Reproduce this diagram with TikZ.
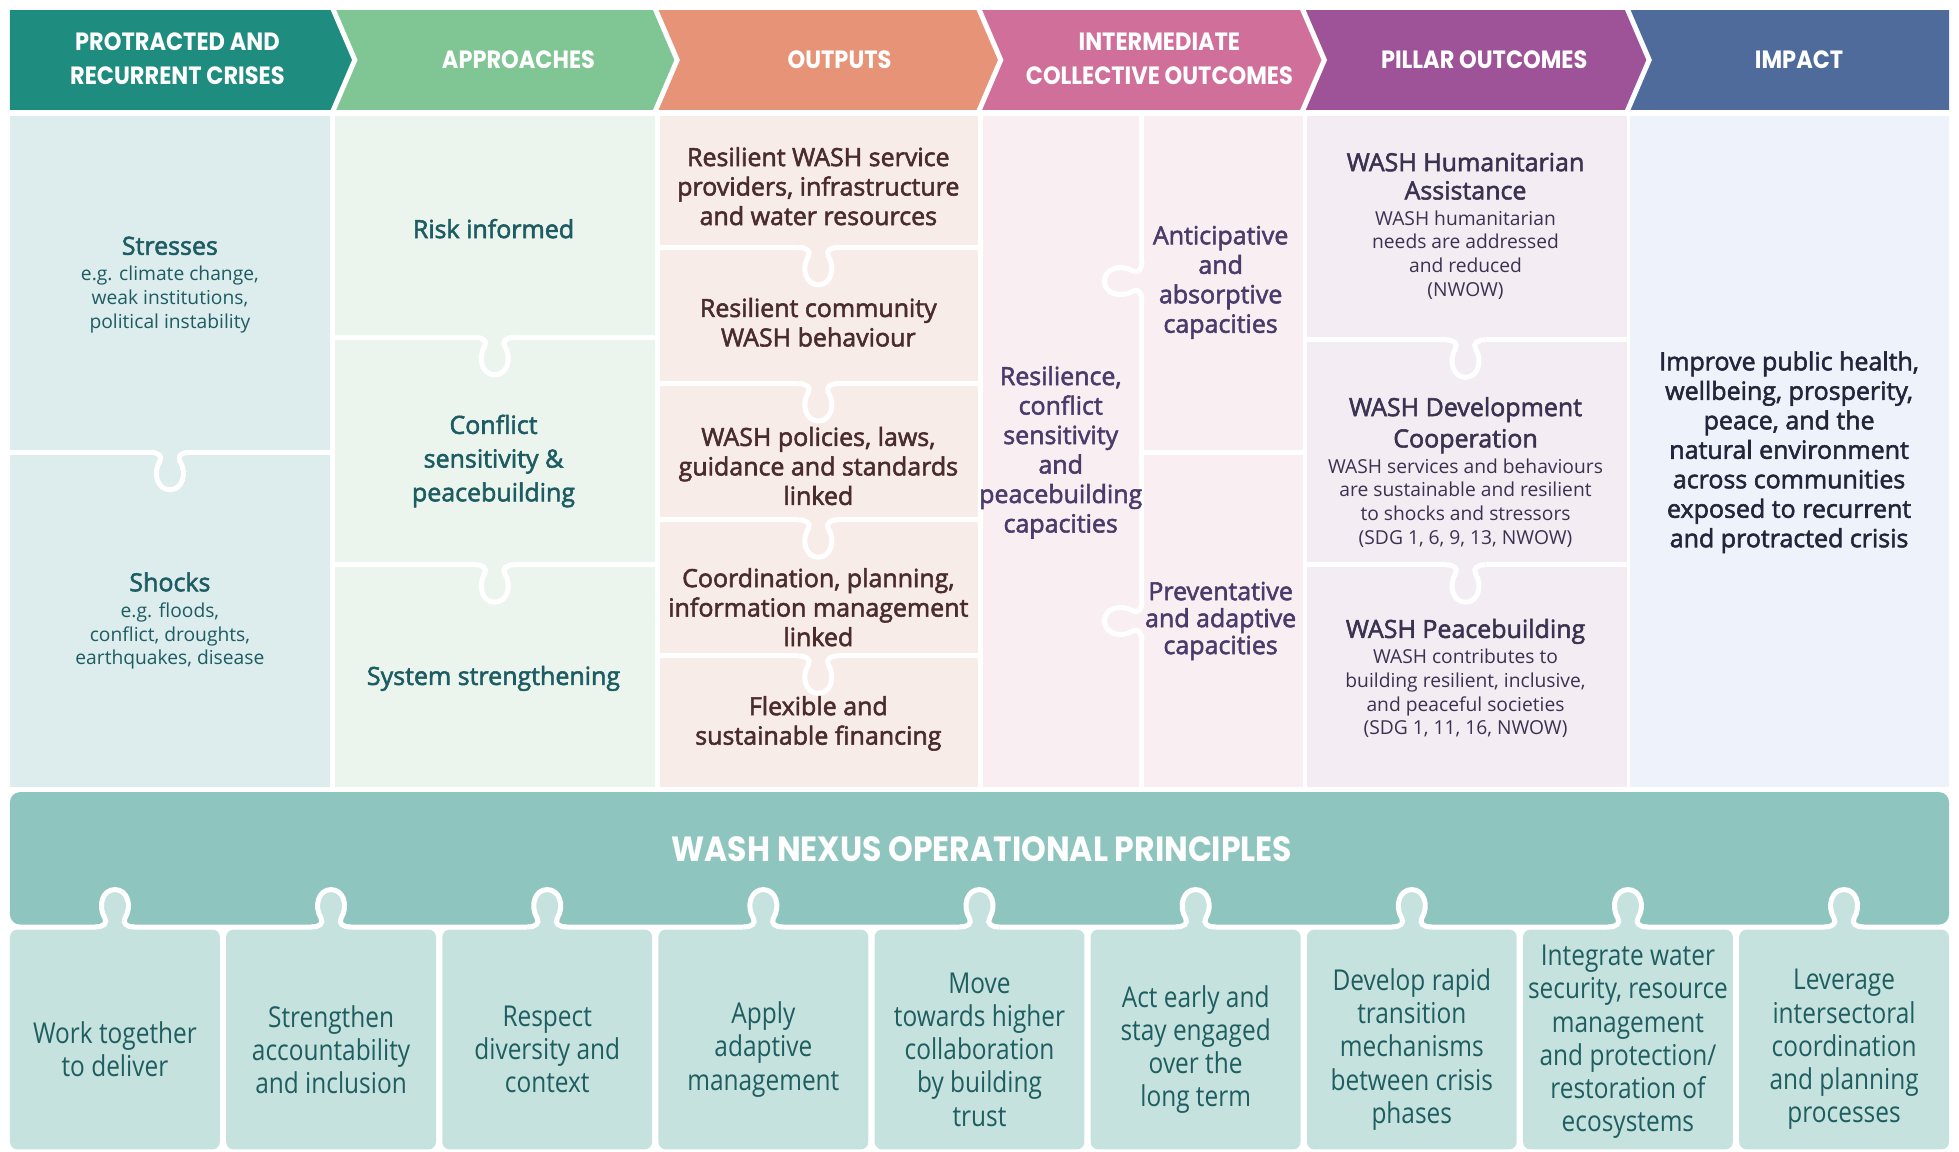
\documentclass[tikz,border=0pt]{standalone}
\usepackage{fontspec}
\setmainfont{Open Sans}
\newfontfamily\headfont{Poppins}[FakeStretch=0.9]
\newfontfamily\semifont{Open Sans}[FakeBold=2.2]
\newfontfamily\cardfont{Open Sans}[FakeStretch=0.85]
\usetikzlibrary{positioning}

\definecolor{hdcrisis}{HTML}{1E8C7E}
\definecolor{hdappr}{HTML}{80C594}
\definecolor{hdout}{HTML}{E69377}
\definecolor{hdinter}{HTML}{D0709A}
\definecolor{hdpillar}{HTML}{9E5399}
\definecolor{hdimpact}{HTML}{4E6B9B}
\definecolor{bgcrisis}{HTML}{DDECEC}
\definecolor{bgappr}{HTML}{EBF5EE}
\definecolor{bgout}{HTML}{F8ECE8}
\definecolor{bginter}{HTML}{F9EFF3}
\definecolor{bgpillar}{HTML}{F3ECF3}
\definecolor{bgimpact}{HTML}{EEF3FB}
\definecolor{banner}{HTML}{8FC5BF}
\definecolor{cardbg}{HTML}{C6E2DE}
\definecolor{txtteal}{HTML}{1D5C63}
\definecolor{txtbrown}{HTML}{4A2C2C}
\definecolor{txtpurple}{HTML}{4A3C6A}
\definecolor{txtpillar}{HTML}{3A3350}
\definecolor{txtimpact}{HTML}{23263A}
\definecolor{txtcard}{HTML}{1E5D60}

\tikzset{
  sep/.style={draw=white, line width=2pt},
  hdtext/.style={text=white, inner sep=0pt, align=center,
    font=\headfont\bfseries\fontsize{10}{13.5}\selectfont},
  bannertext/.style={text=white, inner sep=0pt,
    font=\headfont\bfseries\fontsize{14}{16}\selectfont},
  bodytext/.style={inner sep=0pt, align=center, font=\fontsize{7.7}{9.5}\selectfont},
  boldtext/.style={inner sep=0pt, align=center, font=\semifont\fontsize{10}{11.8}\selectfont},
  cardtext/.style={inner sep=0pt, align=center, text=txtcard,
    font=\cardfont\fontsize{11.5}{13.3}\selectfont},
  knob/.pic={\draw[sep] (-16,0) .. controls (-9,0) and (-6,3) .. (-8,7)
    .. controls (-14,17) and (-10,30) .. (0,30) .. controls (10,30) and (14,17) .. (8,7)
    .. controls (6,3) and (9,0) .. (16,0);},
  knobfill/.pic={\fill[cardbg] (-16,0) .. controls (-9,0) and (-6,3) .. (-8,7)
    .. controls (-14,17) and (-10,30) .. (0,30) .. controls (10,30) and (14,17) .. (8,7)
    .. controls (6,3) and (9,0) .. (16,0) -- (16,-5) -- (-16,-5) -- cycle;}
}
\newcommand\knobline[4]{\draw[sep] (#1,#3) -- (#4-16,#3) (#4+16,#3) -- (#2,#3);
  \path (#4,#3) pic {knob};}
\newcommand\ttl[1]{{\semifont\fontsize{10}{11.5}\selectfont #1}}

\begin{document}
\begin{tikzpicture}[x=0.5pt, y=-0.5pt]
    \useasboundingbox (0,0) rectangle (1568,922);

    \fill[hdcrisis] (8,8) -- (266,8) -- (284,48) -- (266,88) -- (8,88) -- cycle;
    \foreach \a/\b/\c in {266/524/hdappr, 524/783/hdout, 783/1042/hdinter, 1042/1302/hdpillar}
	\fill[\c] (\a,8) -- (\b,8) -- (\b+18,48) -- (\b,88) -- (\a,88) -- (\a+18,48) -- cycle;
    \fill[hdimpact] (1302,8) -- (1560,8) -- (1560,88) -- (1302,88) -- (1320,48) -- cycle;
    \foreach \a in {266,524,783,1042,1302}
	\draw[sep] (\a,6) -- (\a+18,48) -- (\a,90);

    \path (142,47) node [hdtext] (hcrisis) {PROTRACTED AND\\RECURRENT CRISES};
    \path (415,48) node [hdtext] (happr) {APPROACHES};
    \path (672,48) node [hdtext] (hout) {OUTPUTS};
    \path (928,47) node [hdtext] (hinter) {INTERMEDIATE\\COLLECTIVE OUTCOMES};
    \path (1188,48) node [hdtext] (hpillar) {PILLAR OUTCOMES};
    \path (1440,48) node [hdtext] (himpact) {IMPACT};

    \fill[bgcrisis] (8,93) rectangle (264,630);
    \fill[bgappr] (268,93) rectangle (524,630);
    \fill[bgout] (528,93) rectangle (783,630);
    \fill[bginter] (787,93) rectangle (1043,630);
    \fill[bgpillar] (1046,93) rectangle (1302,630);
    \fill[bgimpact] (1305,93) rectangle (1560,630);

    \knobline{8}{264}{362}{136}
    \foreach \y in {270,452} {\knobline{268}{524}{\y}{396}}
    \foreach \y in {198,307,416,525} {\knobline{528}{783}{\y}{655}}
    \foreach \y in {272,452} {\knobline{1046}{1302}{\y}{1173}}
    \draw[sep] (914,93) -- (914,209) (914,241) -- (914,481) (914,513) -- (914,630);
    \path (914,225) pic[rotate=-90] {knob} (914,497) pic[rotate=-90] {knob};
    \draw[sep] (914,362) -- (1043,362);

    \path (136,228) node [bodytext, text=txtteal] (stress)
	{\ttl{Stresses}\\[1pt]e.g. climate change,\\weak institutions,\\political instability};
    \path (136,497) node [bodytext, text=txtteal] (shock)
	{\ttl{Shocks}\\[1pt]e.g. floods,\\conflict, droughts,\\earthquakes, disease};

    \path (395,183) node [boldtext, text=txtteal] (risk) {Risk informed};
    \path (395,369) node [boldtext, text=txtteal, font=\semifont\fontsize{10}{13.5}\selectfont] (conflict)
	{Conflict\\sensitivity \&\\peacebuilding};
    \path (395,543) node [boldtext, text=txtteal] (system) {System strengthening};

    \path (655,149) node [boldtext, text=txtbrown] (out1)
	{Resilient WASH service\\providers, infrastructure\\and water resources};
    \path (655,258) node [boldtext, text=txtbrown] (out2) {Resilient community\\WASH behaviour};
    \path (655,373) node [boldtext, text=txtbrown] (out3)
	{WASH policies, laws,\\guidance and standards\\linked};
    \path (655,486) node [boldtext, text=txtbrown] (out4)
	{Coordination, planning,\\information management\\linked};
    \path (655,579) node [boldtext, text=txtbrown] (out5) {Flexible and\\sustainable financing};

    \path (849,362) node [boldtext, text=txtpurple] (resil)
	{Resilience,\\conflict\\sensitivity\\and\\peacebuilding\\capacities};
    \path (977,226) node [boldtext, text=txtpurple] (antic) {Anticipative\\and\\absorptive\\capacities};
    \path (977,497) node [boldtext, text=txtpurple, font=\semifont\fontsize{10}{10.8}\selectfont] (prevent)
	{Preventative\\and adaptive\\capacities};

    \path (1173,181) node [bodytext, text=txtpillar] (human)
	{\ttl{WASH Humanitarian}\\[1.8pt]\ttl{Assistance}\\[0.8pt]WASH humanitarian\\needs are addressed\\and reduced\\(NWOW)};
    \path (1173,378) node [bodytext, text=txtpillar] (develop)
	{\ttl{WASH Development}\\[1.8pt]\ttl{Cooperation}\\[0.8pt]WASH services and behaviours\\are sustainable and resilient\\to shocks and stressors\\(SDG 1, 6, 9, 13, NWOW)};
    \path (1173,543) node [bodytext, text=txtpillar] (peace)
	{\ttl{WASH Peacebuilding}\\[0.8pt]WASH contributes to\\building resilient, inclusive,\\and peaceful societies\\(SDG 1, 11, 16, NWOW)};

    \path (1432,362) node [boldtext, text=txtimpact] (impact)
	{Improve public health,\\wellbeing, prosperity,\\peace, and the\\natural environment\\across communities\\exposed to recurrent\\and protracted crisis};

    \fill[banner, rounded corners=4pt] (8,634) rectangle (1560,740);
    \path (786,680) node [bannertext] (principles) {WASH NEXUS OPERATIONAL PRINCIPLES};
    \foreach \i/\yy/\txt in {0/840/{Work together\\to deliver},
	1/840/{Strengthen\\accountability\\and inclusion},
	2/840/{Respect\\diversity and\\context},
	3/840/{Apply\\adaptive\\management},
	4/840/{Move\\towards higher\\collaboration\\by building\\trust},
	5/840/{Act early and\\stay engaged\\over the\\long term},
	6/840/{Develop rapid\\transition\\mechanisms\\between crisis\\phases},
	7/834/{Integrate water\\security, resource\\management\\and protection/\\restoration of\\ecosystems},
	8/840/{Leverage\\intersectoral\\coordination\\and planning\\processes}} {
	\fill[cardbg, rounded corners=3pt] (8+173*\i,744) rectangle (176+173*\i,920);
	\path (92+173*\i,742) pic[rotate=180] {knobfill} pic[rotate=180] {knob};
	\path (92+173*\i,\yy) node [cardtext] (card\i) {\txt};
    }
\end{tikzpicture}
\end{document}
